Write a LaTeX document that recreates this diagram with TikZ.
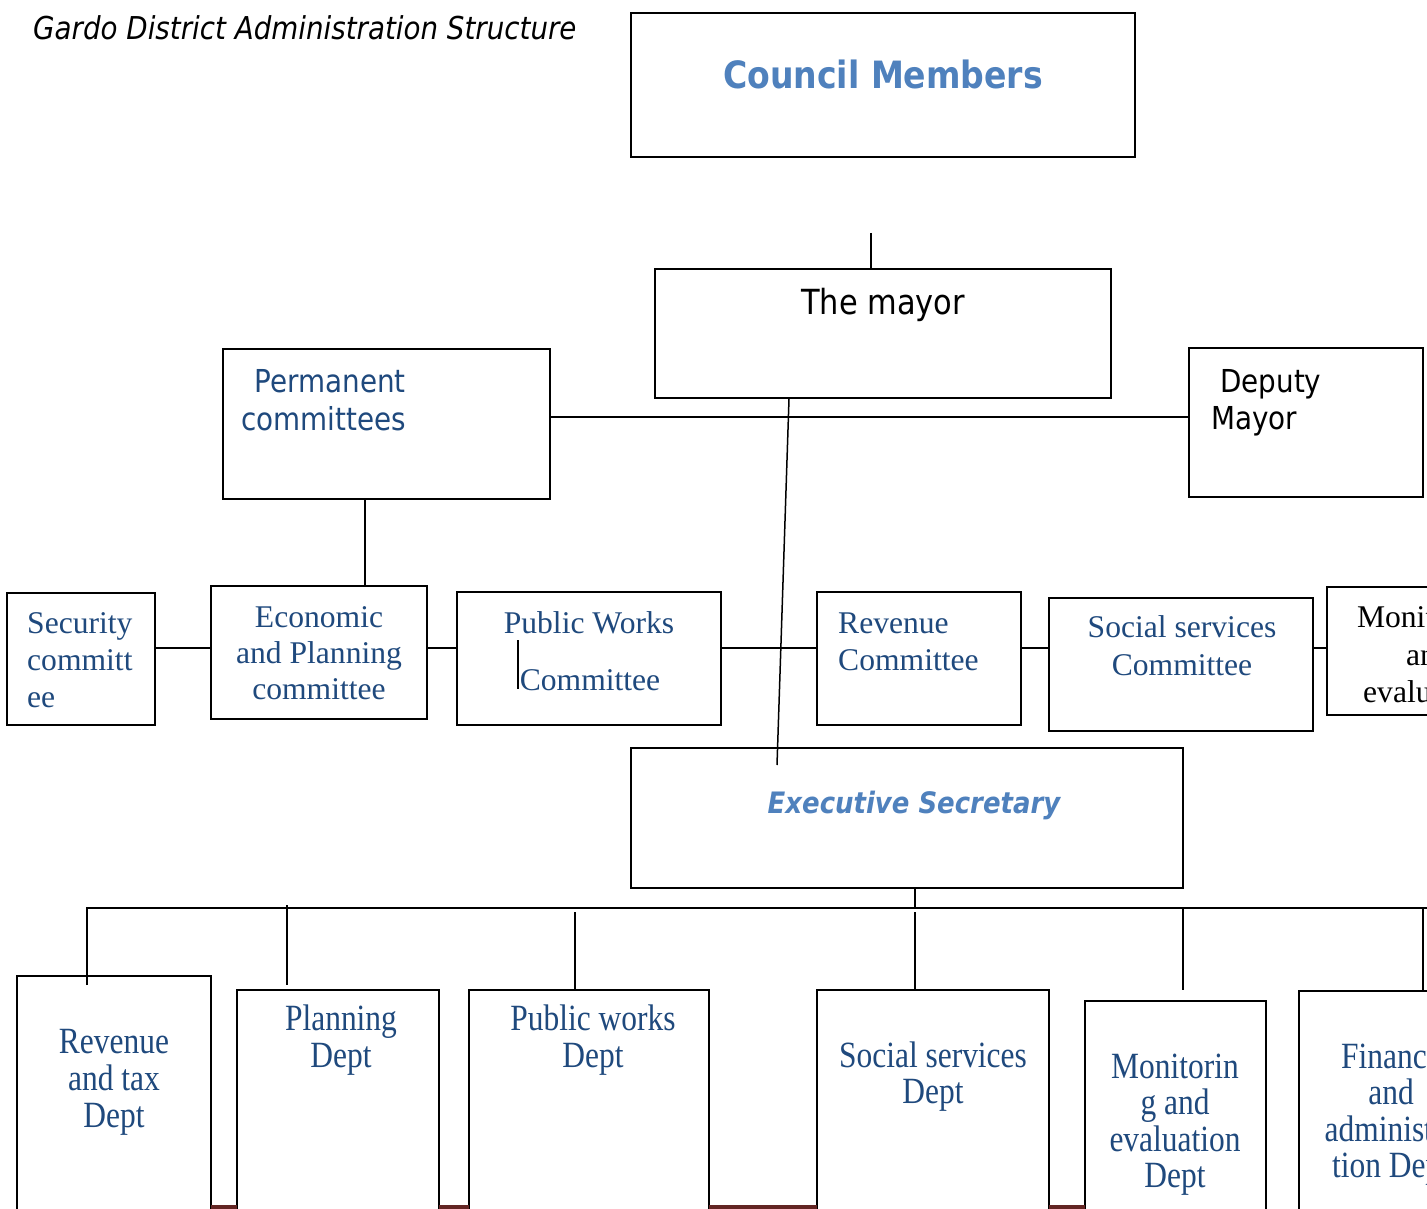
\documentclass[tikz,border=0pt]{standalone}
\usepackage{fontspec}
\usetikzlibrary{fit}
\newfontfamily\tah[FakeStretch=0.88]{DejaVu Sans}
\newfontfamily\tms{Liberation Serif}
\newfontfamily\tmsc[FakeStretch=0.85]{Liberation Serif}
\definecolor{tblue}{HTML}{1F497D}
\definecolor{lblue}{HTML}{4F81BD}
\definecolor{dred}{HTML}{632523}
\tikzset{
  box/.style={draw=black, line width=1.8pt, inner sep=0pt},
  conn/.style={draw=black, line width=1.5pt},
  lbl/.style={inner sep=0pt, anchor=base},
  cmt/.style={lbl, font=\tms\fontsize{31.6}{37}\selectfont, text=tblue},
  dpt/.style={lbl, font=\tmsc\fontsize{37}{37}\selectfont, text=tblue},
  sns/.style={lbl, font=\tah\fontsize{31.6}{37}\selectfont},
}
\begin{document}
\begin{tikzpicture}[x=1pt,y=-1pt]
\useasboundingbox (0,0) rectangle (1427,1209);
\clip (0,0) rectangle (1427,1209);
\fill[white] (0,0) rectangle (1427,1209);

% title
\node[lbl, anchor=base west, font=\tah\itshape\fontsize{31.5}{37}\selectfont] (title) at (33,40) {Gardo District Administration Structure};

% top boxes
\node[box, fit={(631,13) (1135,157)}] (council) {};
\node[lbl, font=\tah\bfseries\fontsize{37.6}{40}\selectfont, text=lblue] (tcouncil) at (883,89) {Council Members};

\node[box, fit={(655,269) (1111,398)}] (mayor) {};
\node[lbl, font=\tah\fontsize{34.6}{40}\selectfont] (tmayor) at (883,314) {The mayor};

\node[box, fit={(223,349) (550,499)}] (perm) {};
\node[sns, anchor=base east, text=tblue] (tperm1) at (406,392) {Permanent};
\node[sns, anchor=base east, text=tblue] (tperm2) at (406,430) {committees};

\node[box, fit={(1189,348) (1423,497)}] (dep) {};
\node[sns, anchor=base west] (tdep1) at (1220,392) {Deputy};
\node[sns, anchor=base west] (tdep2) at (1211,429) {Mayor};

% committees row
\node[box, fit={(7,593) (155,725)}] (sec) {};
\node[cmt, anchor=base west] (tsec1) at (27,633) {Security};
\node[cmt, anchor=base west] (tsec2) at (27,670) {committ};
\node[cmt, anchor=base west] (tsec3) at (27,707) {ee};

\node[box, fit={(211,586) (427,719)}] (econ) {};
\node[cmt] (tecon1) at (319,627) {Economic};
\node[cmt] (tecon2) at (319,663) {and Planning};
\node[cmt] (tecon3) at (319,699) {committee};

\node[box, fit={(457,592) (721,725)}] (pwc) {};
\node[cmt] (tpwc1) at (589,633) {Public Works};
\node[cmt] (tpwc2) at (590,690) {Committee};
\coordinate (cur1) at (518,640);
\coordinate (cur2) at (518,689);
\draw[line width=1.2pt] (cur1) -- (cur2);

\node[box, fit={(817,592) (1021,725)}] (revc) {};
\node[cmt, anchor=base west] (trevc1) at (838,633) {Revenue};
\node[cmt, anchor=base west] (trevc2) at (838,670) {Committee};

\node[box, fit={(1049,598) (1313,731)}] (socc) {};
\node[cmt] (tsocc1) at (1182,637) {Social services};
\node[cmt] (tsocc2) at (1182,675) {Committee};

\node[box, fit={(1327,587) (1531,715)}] (monc) {};
\node[cmt, text=black] (tmonc1) at (1429,627) {Monitoring};
\node[cmt, text=black] (tmonc2) at (1429,665) {and};
\node[cmt, text=black] (tmonc3) at (1429,702) {evaluation};

% executive secretary
\node[box, fit={(631,748) (1183,888)}] (exec) {};
\node[lbl, font=\tah\bfseries\itshape\fontsize{29.5}{35}\selectfont, text=lblue] (texec) at (914,813) {Executive Secretary};

% departments
\node[box, fit={(17,976) (211,1240)}] (rtd) {};
\node[dpt] (trtd1) at (114,1053) {Revenue};
\node[dpt] (trtd2) at (114,1090) {and tax};
\node[dpt] (trtd3) at (114,1127) {Dept};

\node[box, fit={(237,990) (439,1240)}] (pld) {};
\node[dpt] (tpld1) at (341,1030) {Planning};
\node[dpt] (tpld2) at (341,1067) {Dept};

\node[box, fit={(469,990) (709,1240)}] (pwd) {};
\node[dpt] (tpwd1) at (593,1030) {Public works};
\node[dpt] (tpwd2) at (593,1067) {Dept};

\node[box, fit={(817,990) (1049,1240)}] (ssd) {};
\node[dpt] (tssd1) at (933,1067) {Social services};
\node[dpt] (tssd2) at (933,1103) {Dept};

\node[box, fit={(1085,1001) (1266,1240)}] (med) {};
\node[dpt] (tmed1) at (1175,1078) {Monitorin};
\node[dpt] (tmed2) at (1175,1114) {g and};
\node[dpt] (tmed3) at (1175,1151) {evaluation};
\node[dpt] (tmed4) at (1175,1187) {Dept};

\node[box, fit={(1299,991) (1490,1240)}] (fad) {};
\node[dpt] (tfad1) at (1391,1068) {Finance};
\node[dpt] (tfad2) at (1391,1104) {and};
\node[dpt] (tfad3) at (1391,1141) {administra};
\node[dpt] (tfad4) at (1391,1177) {tion Dept};

% dark red strips at the bottom
\fill[dred] (211,1205) rectangle (237,1212);
\fill[dred] (439,1205) rectangle (469,1212);
\fill[dred] (709,1205) rectangle (817,1212);
\fill[dred] (1049,1205) rectangle (1085,1212);

% connectors
\coordinate (cstub) at (871,233);
\draw[conn] (cstub) -- (cstub |- mayor.north);

\coordinate (hy) at (0,417);
\draw[conn] (perm.east |- hy) -- (dep.west |- hy);

\coordinate (slend) at (777,765);
\draw[conn] (789,0 |- mayor.south) -- (slend);

\draw[conn] (365,0 |- perm.south) -- (365,0 |- econ.north);

\coordinate (rowy) at (0,648);
\draw[conn] (sec.east |- rowy) -- (econ.west |- rowy);
\draw[conn] (econ.east |- rowy) -- (pwc.west |- rowy);
\draw[conn] (pwc.east |- rowy) -- (revc.west |- rowy);
\draw[conn] (revc.east |- rowy) -- (socc.west |- rowy);
\draw[conn] (socc.east |- rowy) -- (monc.west |- rowy);

\coordinate (busL) at (87,908);
\coordinate (busR) at (1440,908);
\draw[conn] (915,0 |- exec.south) -- (915,908);
\draw[conn] (87,985) -- (busL) -- (busR);
\draw[conn] (287,905) -- (287,985);
\draw[conn] (575,912) -- (575,0 |- pwd.north);
\draw[conn] (915,912) -- (915,0 |- ssd.north);
\draw[conn] (1183,908) -- (1183,990);
\draw[conn] (1423,908) -- (1423,0 |- fad.north);
\end{tikzpicture}
\end{document}
